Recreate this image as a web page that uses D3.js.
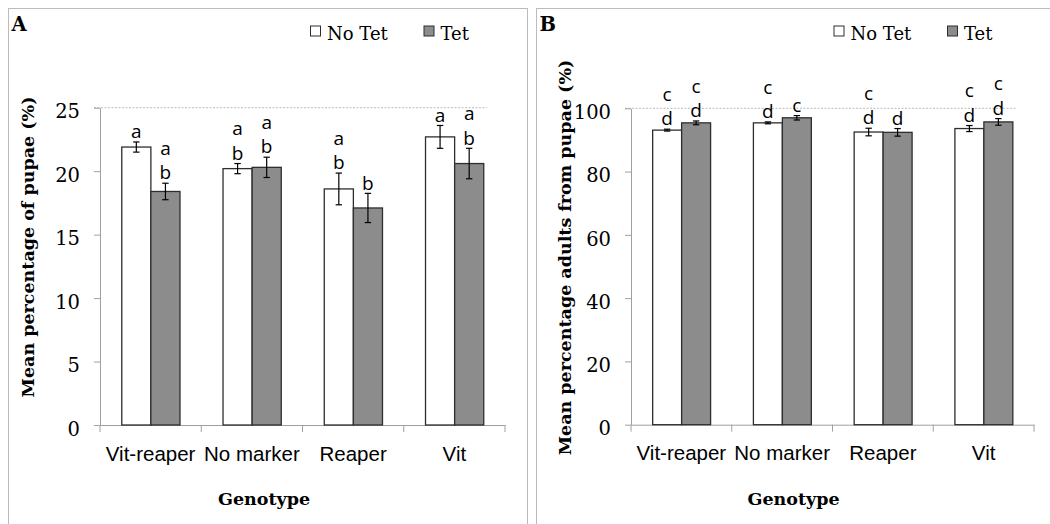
<!DOCTYPE html>
<html>
<head>
<meta charset="utf-8">
<script src="https://cdnjs.cloudflare.com/ajax/libs/d3/7.8.5/d3.min.js"></script>
<style>
  body { margin: 0; background: #fff; }
  svg { display: block; }
</style>
</head>
<body>
<script>
// Two bar charts side by side: % pupae (A) and % adults from pupae (B)

//////////////////////////////////////////////////////////////////////////////
// Data

let genotypes = ["Vit-reaper", "No marker", "Reaper", "Vit"];
let treatments = ["No Tet", "Tet"];

let pupaeNoTet = [21.9, 20.2, 18.6, 22.7];
let pupaeTet = [18.4, 20.3, 17.1, 20.6];
let pupaeErrNoTet = [0.4, 0.4, 1.25, 0.9];
let pupaeErrTet = [0.65, 0.8, 1.15, 1.2];
let pupaeLettersNoTet = [["a"], ["a", "b"], ["a", "b"], ["a"]];
let pupaeLettersTet = [["a", "b"], ["a", "b"], ["b"], ["a", "b"]];
let pupaeTicks = [0, 5, 10, 15, 20, 25];

let adultsNoTet = [93.1, 95.4, 92.5, 93.6];
let adultsTet = [95.4, 97.0, 92.4, 95.7];
let adultsErrNoTet = [0.3, 0.3, 1.2, 0.95];
let adultsErrTet = [0.6, 0.7, 1.2, 1.05];
let adultsLettersNoTet = [["c", "d"], ["c", "d"], ["c", "d"], ["c", "d"]];
let adultsLettersTet = [["c", "d"], ["c"], ["d"], ["c", "d"]];
let adultsTicks = [0, 20, 40, 60, 80, 100];

//////////////////////////////////////////////////////////////////////////////
// Canvas

let width = 1050;
let height = 524;

let svg = d3.select("body").append("svg")
  .attr("width", width)
  .attr("height", height);

let fills = { "No Tet": "#ffffff", "Tet": "#8c8c8c" };
let serif = "'DejaVu Serif', serif";
let sans = "'Liberation Sans', Arial, sans-serif";
let letterFont = "'Open Sans', sans-serif";

// build the row table for one panel
function makeRows(noTet, tet, errNoTet, errTet, lettersNoTet, lettersTet) {
  let rows = [];
  genotypes.forEach((g, i) => {
    rows.push({ genotype: g, treatment: "No Tet", value: noTet[i], err: errNoTet[i], letters: lettersNoTet[i] });
    rows.push({ genotype: g, treatment: "Tet", value: tet[i], err: errTet[i], letters: lettersTet[i] });
  });
  return rows;
}

let panels = [
  {
    tag: "A", frame: [8.5, 8.5, 519, 530], xRange: [100, 505], yRange: [425, 107.7],
    ticks: pupaeTicks, title: "Mean percentage of  pupae (%)", titleX: 34, titleY: 247,
    genoX: 264, legendX: 310.5,
    rows: makeRows(pupaeNoTet, pupaeTet, pupaeErrNoTet, pupaeErrTet, pupaeLettersNoTet, pupaeLettersTet)
  },
  {
    tag: "B", frame: [536.5, 8.5, 530, 530], xRange: [631, 1034], yRange: [424.7, 108.3],
    ticks: adultsTicks, title: "Mean percentage adults from pupae  (%)", titleX: 571, titleY: 257.5,
    genoX: 793.5, legendX: 834,
    rows: makeRows(adultsNoTet, adultsTet, adultsErrNoTet, adultsErrTet, adultsLettersNoTet, adultsLettersTet)
  }
];

panels.forEach(p => drawPanel(svg.append("g"), p));

//////////////////////////////////////////////////////////////////////////////
// Draw one panel

function drawPanel(g, p) {
  // frame around the panel
  g.append("rect")
    .attr("x", p.frame[0]).attr("y", p.frame[1])
    .attr("width", p.frame[2]).attr("height", p.frame[3])
    .attr("fill", "none")
    .attr("stroke", "#bcbcbc");

  g.append("text")
    .attr("x", p.frame[0] + 3)
    .attr("y", 30.5)
    .style("font-family", serif)
    .style("font-weight", "bold")
    .style("font-size", "19.5px")
    .text(p.tag);

  let x = d3.scaleBand().domain(genotypes).range(p.xRange);
  let bw = x.bandwidth();
  let x1 = d3.scaleBand().domain(treatments).range([bw * 0.215, bw * 0.79]);
  let y = d3.scaleLinear().domain(d3.extent(p.ticks)).range(p.yRange);
  let top = d3.max(p.ticks);

  // dotted line along the top of the plot
  g.append("line")
    .attr("x1", p.xRange[0] - 6).attr("x2", p.xRange[1] - 18)
    .attr("y1", y(top)).attr("y2", y(top))
    .attr("stroke", "#a8a8a8")
    .attr("stroke-width", 0.8)
    .attr("stroke-dasharray", "2,1.5");

  // y axis
  let yAxis = g.append("g")
    .attr("transform", `translate(${p.xRange[0]},0)`)
    .call(d3.axisLeft(y).tickValues(p.ticks).tickSize(6).tickSizeOuter(0).tickPadding(14));
  yAxis.selectAll("path, line").attr("stroke", "#a0a0a0");
  yAxis.selectAll("text")
    .attr("dy", "0.52em")
    .attr("fill", "#000")
    .style("font-family", serif)
    .style("font-size", "19.5px");

  // x axis, ticks between categories like the original
  let xAxis = g.append("g")
    .attr("transform", `translate(0,${p.yRange[0]})`)
    .call(d3.axisBottom(x).tickSize(0).tickSizeOuter(0).tickPadding(21));
  xAxis.selectAll("path").attr("stroke", "#a0a0a0");
  xAxis.selectAll("text")
    .attr("dy", "0.71em")
    .attr("fill", "#000")
    .style("font-family", sans)
    .style("font-size", "20.5px");
  xAxis.selectAll(".sep")
    .data(d3.range(genotypes.length + 1))
    .join("line")
    .attr("class", "sep")
    .attr("x1", i => p.xRange[0] + i * x.step())
    .attr("x2", i => p.xRange[0] + i * x.step())
    .attr("y1", 0).attr("y2", 7)
    .attr("stroke", "#a0a0a0");

  // bars
  let groups = g.selectAll(".bar")
    .data(p.rows)
    .join("g")
    .attr("class", "bar")
    .attr("transform", d => `translate(${x(d.genotype) + x1(d.treatment)},0)`);

  groups.append("rect")
    .attr("x", 0)
    .attr("y", d => y(d.value))
    .attr("width", x1.bandwidth())
    .attr("height", d => y(0) - y(d.value))
    .attr("fill", d => fills[d.treatment])
    .attr("stroke", "#2e2e2e")
    .attr("stroke-width", 1.3);

  // error bars
  let cx = x1.bandwidth() / 2;
  groups.append("line")
    .attr("x1", cx).attr("x2", cx)
    .attr("y1", d => y(d.value + d.err))
    .attr("y2", d => y(d.value - d.err))
    .attr("stroke", "#000").attr("stroke-width", 1.2);
  [1, -1].forEach(s => {
    groups.append("line")
      .attr("x1", cx - 3.2).attr("x2", cx + 3.2)
      .attr("y1", d => y(d.value + s * d.err))
      .attr("y2", d => y(d.value + s * d.err))
      .attr("stroke", "#000").attr("stroke-width", 1.2);
  });

  // significance letters, stacked above the error bar
  groups.each(function (d) {
    let n = d.letters.length;
    d3.select(this).selectAll(".sig")
      .data(d.letters)
      .join("text")
      .attr("class", "sig")
      .attr("x", cx)
      .attr("y", (l, i) => y(d.value + d.err) - 3.8 - (n - 1 - i) * 24.5)
      .attr("text-anchor", "middle")
      .style("font-family", letterFont)
      .style("font-size", "19px")
      .text(l => l);
  });

  // axis titles
  g.append("text")
    .attr("transform", `translate(${p.titleX},${p.titleY}) rotate(-90)`)
    .attr("text-anchor", "middle")
    .style("font-family", serif)
    .style("font-weight", "bold")
    .style("font-size", "17.5px")
    .text(p.title);

  g.append("text")
    .attr("x", p.genoX)
    .attr("y", 505)
    .attr("text-anchor", "middle")
    .style("font-family", serif)
    .style("font-weight", "bold")
    .style("font-size", "17.5px")
    .text("Genotype");

  // legend
  let legend = g.selectAll(".legend")
    .data(treatments)
    .join("g")
    .attr("class", "legend")
    .attr("transform", (d, i) => `translate(${p.legendX + i * 113.5},26)`);

  legend.append("rect")
    .attr("width", 10).attr("height", 10)
    .attr("fill", d => fills[d])
    .attr("stroke", "#2e2e2e")
    .attr("stroke-width", 1);

  legend.append("text")
    .attr("x", 16.5)
    .attr("y", 14)
    .style("font-family", serif)
    .style("font-size", "18px")
    .text(d => d);
}
</script>
</body>
</html>
